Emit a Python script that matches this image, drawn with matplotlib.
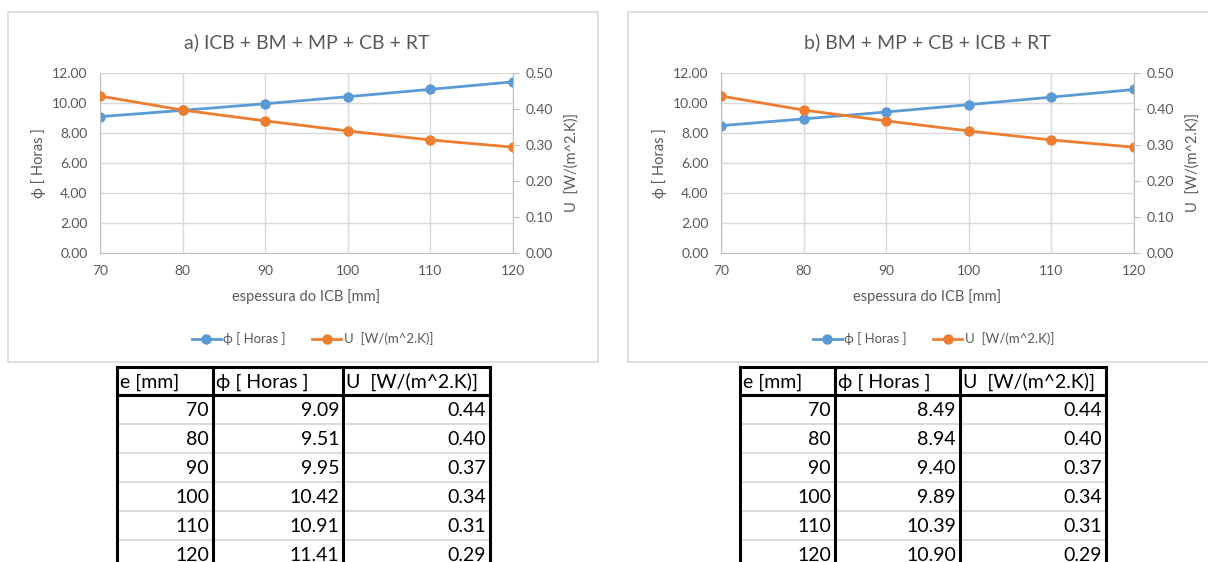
import matplotlib.pyplot as plt
from matplotlib.patches import Rectangle
from matplotlib.lines import Line2D

plt.rcParams['font.family'] = ['Lato', 'DejaVu Sans']

# data
espessura = [70, 80, 90, 100, 110, 120]
phi_a = [9.09, 9.51, 9.95, 10.42, 10.91, 11.41]
u_a = [0.436, 0.397, 0.367, 0.339, 0.314, 0.294]
phi_b = [8.49, 8.94, 9.40, 9.89, 10.39, 10.90]
u_b = [0.436, 0.397, 0.367, 0.339, 0.314, 0.294]

titles = ['a) ICB + BM + MP + CB + RT', 'b) BM + MP + CB + ICB + RT']
phi_lbl = 'ϕ [ Horas ]'
u_lbl = 'U  [W/(m^2.K)]'
col_heads = ['e [mm]', 'ϕ [ Horas ]', 'U  [W/(m^2.K)]']

BLUE = '#5B9BD5'
ORANGE = '#ED7D31'
GREY = '#595959'
GRID = '#d9d9d9'

W, H = 1208, 562
fig = plt.figure(figsize=(W / 100, H / 100), dpi=100)
bg = fig.add_axes([0, 0, 1, 1])
bg.set_xlim(0, W)
bg.set_ylim(H, 0)
bg.axis('off')


def px_axes(x0, y0, x1, y1):
    return fig.add_axes([x0 / W, 1 - y1 / H, (x1 - x0) / W, (y1 - y0) / H])


def chart(box, plot, title, phi, u):
    bx0, by0, bx1, by1 = box
    bg.add_patch(Rectangle((bx0, by0), bx1 - bx0, by1 - by0, fill=False,
                           edgecolor=GRID, lw=1.2, clip_on=True))
    ax = px_axes(*plot)
    ax.plot(espessura, phi, color=BLUE, lw=2, marker='o', ms=6.5)
    ax.set_xlim(70, 120)
    ax.set_ylim(0, 12)
    ax.set_yticks(range(0, 13, 2))
    ax.set_yticklabels([f'{v:.2f}' for v in range(0, 13, 2)])
    ax.set_xticks(espessura)
    ax.grid(True, color=GRID, lw=1)
    ax.set_axisbelow(True)
    for s in ['top', 'right']:
        ax.spines[s].set_visible(False)
    for s in ['left', 'bottom']:
        ax.spines[s].set_color('#bfbfbf')
    ax.tick_params(length=0, colors=GREY, labelsize=10)
    ax.tick_params(axis='y', pad=9)
    ax.tick_params(axis='x', pad=9)
    ax.set_xlabel('espessura do ICB [mm]', color=GREY, fontsize=10.5, labelpad=8)
    ax.set_ylabel(phi_lbl, color=GREY, fontsize=10.5, labelpad=4)

    ax2 = ax.twinx()
    ax2.plot(espessura, u, color=ORANGE, lw=2, marker='o', ms=6.5)
    ax2.set_ylim(0, 0.5)
    ax2.set_yticks([0, 0.1, 0.2, 0.3, 0.4, 0.5])
    ax2.set_yticklabels([f'{v:.2f}' for v in [0, 0.1, 0.2, 0.3, 0.4, 0.5]])
    for s in ['top', 'left', 'bottom']:
        ax2.spines[s].set_visible(False)
    ax2.spines['right'].set_color('#bfbfbf')
    ax2.tick_params(length=4, color='#bfbfbf', labelcolor=GREY, labelsize=10, pad=5)
    ax2.set_ylabel(u_lbl, color=GREY, fontsize=10.5, labelpad=8)

    fig.text((plot[0] + plot[2]) / 2 / W, 1 - 42 / H, title, ha='center',
             va='center', fontsize=14, color=GREY)
    handles = [Line2D([], [], color=BLUE, lw=2, marker='o', ms=6.5),
               Line2D([], [], color=ORANGE, lw=2, marker='o', ms=6.5)]
    fig.legend(handles, [phi_lbl, u_lbl], loc='center',
               bbox_to_anchor=((plot[0] + plot[2]) / 2 / W + 0.005, 1 - 339 / H),
               ncol=2, frameon=False, fontsize=9.5, labelcolor=GREY,
               handlelength=2.2, handletextpad=0.2, columnspacing=2)


def table(cols, y0, phi, u):
    rh = 29
    hb = y0 + 28
    nrows = len(espessura)
    bottom = hb + rh * nrows
    # light horizontal lines between data rows
    for i in range(1, nrows):
        bg.plot([cols[0], cols[-1]], [hb + rh * i] * 2, color='#d4d4d4', lw=1.2)
    # thick borders
    bg.plot([cols[0], cols[-1]], [y0, y0], color='black', lw=2.2)
    bg.plot([cols[0], cols[-1]], [hb, hb], color='black', lw=2.2)
    for c in cols:
        bg.plot([c, c], [y0, bottom], color='black', lw=2.2)
    for j, head in enumerate(col_heads):
        bg.text(cols[j] + 3, (y0 + hb) / 2 + 1, head, ha='left', va='center',
                fontsize=14, color='black')
    for i in range(nrows):
        yc = hb + rh * i + rh / 2 + 1
        vals = [f'{espessura[i]}', f'{phi[i]:.2f}', f'{u[i]:.2f}']
        for j, v in enumerate(vals):
            bg.text(cols[j + 1] - 4, yc, v, ha='right', va='center',
                    fontsize=14, color='black')


chart((8, 12, 598, 362), (100, 73, 513, 253), titles[0], phi_a, u_a)
chart((628, 12, 1215, 362), (721, 73, 1134, 253), titles[1], phi_b, u_b)
table([117, 213, 343, 490], 367, phi_a, u_a)
table([740, 835, 960, 1106], 367, phi_b, u_b)

fig.savefig('out.png', dpi=100)
